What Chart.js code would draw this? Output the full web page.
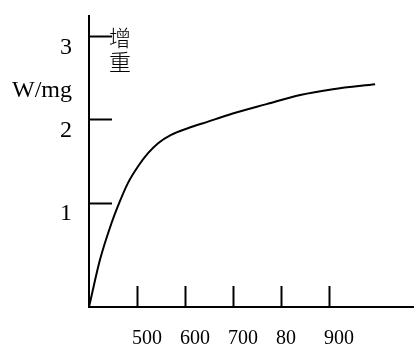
<!DOCTYPE html>
<html>
<head>
<meta charset="utf-8">
<script src="https://cdn.jsdelivr.net/npm/chart.js@4.4.0/dist/chart.umd.min.js"></script>
<style>
  body { margin: 0; background: #fff; }
  .box { width: 414px; height: 349px; position: relative; }
</style>
</head>
<body>
<div class="box"><canvas id="myChart"></canvas></div>
<script>
    // curve (x in the axis units, y in W/mg)
    const xValues = [400, 423, 447, 460, 481, 502, 523, 544, 571, 606, 648, 690, 770, 840, 908, 996];
    const yValues = [-0.25, 0.32, 0.76, 0.96, 1.24, 1.44, 1.60, 1.72, 1.82, 1.90, 1.98, 2.06, 2.19, 2.30, 2.37, 2.43];

    const xTicks = [500, 600, 700, 800, 900];
    const xTickLabels = ['500', '600', '700', '80', '900'];
    const yTicks = [1, 2, 3];
    const yTickLabels = ['1', '2', '3'];

    const points = xValues.map((x, i) => ({ x: x, y: yValues[i] }));

    // axis title and the vertical "增重" note
    const notes = {
      id: 'notes',
      afterDraw(chart) {
        const c = chart.ctx;
        const area = chart.chartArea;
        const yScale = chart.scales.y;
        c.save();
        c.fillStyle = '#000';
        c.font = '24px "Liberation Serif"';
        c.textAlign = 'right';
        c.textBaseline = 'alphabetic';
        c.fillText('W/mg', area.left - 17, yScale.getPixelForValue(2.27));

        c.font = '300 22px "Noto Sans CJK SC"';
        c.textAlign = 'center';
        c.textBaseline = 'middle';
        c.fillText('增', area.left + 31, yScale.getPixelForValue(3) + 1);
        c.fillText('重', area.left + 31, yScale.getPixelForValue(3) + 25);
        c.restore();
      }
    };

    const ctx = document.getElementById('myChart').getContext('2d');
    let myChart = new Chart(ctx, {
      type: 'line',
      data: {
        datasets: [
          {
            data: points,
            borderColor: '#000',
            borderWidth: 2,
            pointRadius: 0,
            fill: false,
            cubicInterpolationMode: 'monotone',
            clip: false
          }
        ]
      },
      options: {
        responsive: true,
        maintainAspectRatio: false,
        animation: false,
        layout: { padding: { top: 16, left: 0, right: 0, bottom: 0 } },
        plugins: {
          legend: { display: false },
          tooltip: { enabled: false }
        },
        scales: {
          x: {
            type: 'linear',
            min: 400,
            max: 1077,
            afterFit: s => { s.height = 42; s.paddingLeft = 0; s.paddingRight = 0; },
            afterBuildTicks: s => { s.ticks = xTicks.map(v => ({ value: v })); },
            border: { display: true, color: '#000', width: 2 },
            grid: { drawOnChartArea: false, drawTicks: true, tickLength: -21, tickWidth: 2, tickColor: '#000' },
            ticks: {
              align: 'start',
              labelOffset: -5,
              padding: 41,
              autoSkip: false,
              maxRotation: 0,
              color: '#000',
              font: { family: 'Liberation Serif', size: 20 },
              callback: (v, i) => xTickLabels[i]
            }
          },
          y: {
            type: 'linear',
            min: -0.25,
            max: 3.25,
            afterFit: s => { s.width = 89; s.paddingTop = 0; s.paddingBottom = 0; },
            afterBuildTicks: s => { s.ticks = yTicks.map(v => ({ value: v })); },
            border: { display: true, color: '#000', width: 2 },
            grid: { drawOnChartArea: false, drawTicks: true, tickLength: -23, tickWidth: 2, tickColor: '#000' },
            ticks: {
              labelOffset: 11,
              padding: 40,
              color: '#000',
              font: { family: 'Liberation Serif', size: 24 },
              callback: (v, i) => yTickLabels[i]
            }
          }
        }
      },
      plugins: [notes]
    });
</script>
</body>
</html>
